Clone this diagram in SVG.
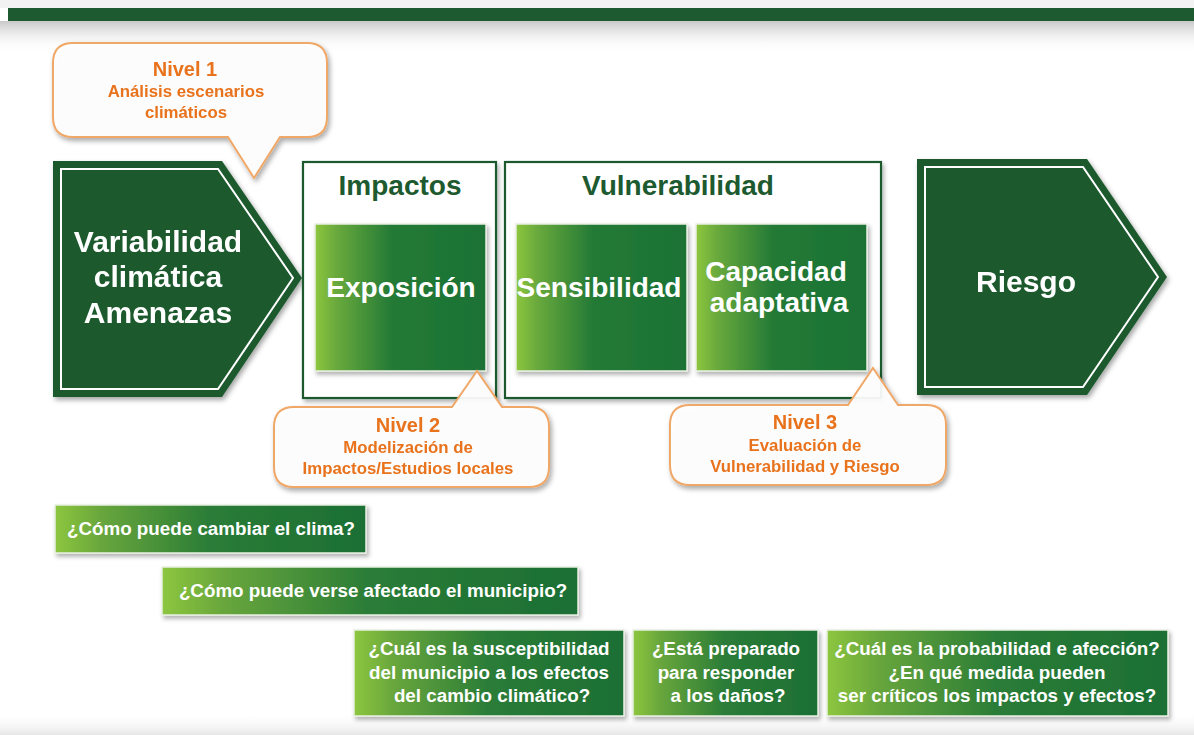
<svg xmlns="http://www.w3.org/2000/svg" width="1194" height="735" viewBox="0 0 1194 735">
<defs>
  <linearGradient id="gBox" x1="0" y1="0" x2="1" y2="0">
    <stop offset="0" stop-color="#8dc63f"/>
    <stop offset="0.12" stop-color="#6aaa3c"/>
    <stop offset="0.45" stop-color="#237a36"/>
    <stop offset="1" stop-color="#1b7234"/>
  </linearGradient>
  <linearGradient id="gQ" x1="0" y1="0" x2="1" y2="0">
    <stop offset="0" stop-color="#8dc63f"/>
    <stop offset="0.15" stop-color="#68a63c"/>
    <stop offset="0.5" stop-color="#2a7c37"/>
    <stop offset="1" stop-color="#1c6f34"/>
  </linearGradient>
  <linearGradient id="gShadeTop" x1="0" y1="0" x2="0" y2="1">
    <stop offset="0" stop-color="#c8c8c8"/>
    <stop offset="1" stop-color="#ffffff" stop-opacity="0"/>
  </linearGradient>
  <linearGradient id="gShadeBot" x1="0" y1="0" x2="0" y2="1">
    <stop offset="0" stop-color="#ffffff" stop-opacity="0"/>
    <stop offset="1" stop-color="#e6e6e6"/>
  </linearGradient>
  <filter id="sh" x="-10%" y="-10%" width="125%" height="130%">
    <feDropShadow dx="2" dy="3" stdDeviation="2.5" flood-color="#000" flood-opacity="0.35"/>
  </filter>
  <filter id="shs" x="-10%" y="-10%" width="125%" height="140%">
    <feDropShadow dx="2" dy="3" stdDeviation="2" flood-color="#000" flood-opacity="0.3"/>
  </filter>
</defs>
<style>
  text { font-family: "Liberation Sans", Arial, sans-serif; font-weight: bold; text-anchor: middle; }
  .w { fill: #ffffff; }
  .big { font-size: 30px; }
  .mid { font-size: 28px; }
  .title { font-size: 28px; fill: #1d5a2f; }
  .or1 { font-size: 20px; fill: #e8731c; }
  .or2 { font-size: 16.8px; fill: #e8731c; }
  .q { font-size: 18.8px; fill: #ffffff; }
  .arrowOuter { fill: #1d5a2f; }
  .arrowInner { fill: none; stroke: #ffffff; stroke-width: 2; }
  .frame { fill: #ffffff; stroke: #1d5a2f; stroke-width: 2.2; }
  .gbox { fill: url(#gBox); stroke: #e8f0e2; stroke-width: 1.5; }
  .qbox { fill: url(#gQ); stroke: #e8f0e2; stroke-width: 1.5; }
  .callout { fill: #ffffff; fill-opacity: 0.92; stroke: #f0a868; stroke-width: 2; }
</style>

<rect x="0" y="0" width="1194" height="735" fill="#ffffff"/>
<rect x="0" y="0" width="1194" height="8" fill="#f2f2f2"/>
<rect x="0" y="21" width="1194" height="32" fill="url(#gShadeTop)"/>
<rect x="0" y="712" width="1194" height="23" fill="url(#gShadeBot)"/>
<rect x="8" y="8" width="1186" height="13" fill="#1d5a2f"/>

<g id="connectors"></g>

<g id="node-variabilidad" filter="url(#sh)">
  <polygon class="arrowOuter" points="53,161 222,161 302,278 222,397 53,397"/>
  <polygon class="arrowInner" points="61,169 218,169 293,278 218,389 61,389"/>
  <text class="w big" x="158" y="252">Variabilidad</text>
  <text class="w big" x="158" y="287">climática</text>
  <text class="w big" x="158" y="323">Amenazas</text>
</g>

<g id="node-impactos">
  <rect class="frame" x="303" y="162" width="193" height="236" filter="url(#shs)"/>
  <text class="title" x="400" y="195">Impactos</text>
</g>

<g id="node-exposicion">
  <rect class="gbox" x="315" y="224" width="171" height="147" filter="url(#shs)"/>
  <text class="w mid" x="401" y="297">Exposición</text>
</g>

<g id="node-vulnerabilidad">
  <rect class="frame" x="505" y="162" width="376" height="236" filter="url(#shs)"/>
  <text class="title" x="678" y="195">Vulnerabilidad</text>
</g>

<g id="node-sensibilidad">
  <rect class="gbox" x="516" y="224" width="171" height="147" filter="url(#shs)"/>
  <text class="w mid" x="599" y="297">Sensibilidad</text>
</g>

<g id="node-capacidad">
  <rect class="gbox" x="696" y="224" width="171" height="147" filter="url(#shs)"/>
  <text class="w mid" x="776" y="281">Capacidad</text>
  <text class="w mid" x="779" y="312">adaptativa</text>
</g>

<g id="node-riesgo" filter="url(#sh)">
  <polygon class="arrowOuter" points="917,159 1087,159 1167,277 1087,395 917,395"/>
  <polygon class="arrowInner" points="925,167 1083,167 1158,277 1083,387 925,387"/>
  <text class="w big" x="1026" y="292">Riesgo</text>
</g>

<g id="callout-nivel1" filter="url(#sh)">
  <path class="callout" d="M 73,43 H 307 Q 327,43 327,63 V 117 Q 327,137 307,137 H 280 L 254,178 L 228,137 H 73 Q 53,137 53,117 V 63 Q 53,43 73,43 Z"/>
  <text class="or1" x="185" y="76">Nivel 1</text>
  <text class="or2" x="186" y="97">Análisis escenarios</text>
  <text class="or2" x="186" y="118">climáticos</text>
</g>

<g id="callout-nivel2" filter="url(#sh)">
  <path class="callout" d="M 294,407 H 452 L 477,371 L 502,407 H 529 Q 549,407 549,427 V 467 Q 549,487 529,487 H 294 Q 274,487 274,467 V 427 Q 274,407 294,407 Z"/>
  <text class="or1" x="408" y="432">Nivel 2</text>
  <text class="or2" x="408" y="453">Modelización de</text>
  <text class="or2" x="408" y="474">Impactos/Estudios locales</text>
</g>

<g id="callout-nivel3" filter="url(#sh)">
  <path class="callout" d="M 690,405 H 848 L 873,368 L 898,405 H 926 Q 946,405 946,425 V 465 Q 946,485 926,485 H 690 Q 670,485 670,465 V 425 Q 670,405 690,405 Z"/>
  <text class="or1" x="805" y="429">Nivel 3</text>
  <text class="or2" x="805" y="451">Evaluación de</text>
  <text class="or2" x="805" y="472">Vulnerabilidad y Riesgo</text>
</g>

<g id="q1">
  <rect class="qbox" x="55" y="505" width="311" height="48" filter="url(#shs)"/>
  <text class="q" x="211" y="535">¿Cómo puede cambiar el clima?</text>
</g>

<g id="q2">
  <rect class="qbox" x="162" y="567" width="416" height="48" filter="url(#shs)"/>
  <text class="q" x="373" y="597">¿Cómo puede verse afectado el municipio?</text>
</g>

<g id="q3">
  <rect class="qbox" x="354" y="630" width="270" height="86" filter="url(#shs)"/>
  <text class="q" x="489" y="655">¿Cuál es la susceptibilidad</text>
  <text class="q" x="489" y="679">del municipio a los efectos</text>
  <text class="q" x="492" y="702">del cambio climático?</text>
</g>

<g id="q4">
  <rect class="qbox" x="633" y="630" width="185" height="86" filter="url(#shs)"/>
  <text class="q" x="726" y="655">¿Está preparado</text>
  <text class="q" x="726" y="679">para responder</text>
  <text class="q" x="728" y="702">a los daños?</text>
</g>

<g id="q5">
  <rect class="qbox" x="827" y="630" width="341" height="86" filter="url(#shs)"/>
  <text class="q" x="997" y="655">¿Cuál es la probabilidad e afección?</text>
  <text class="q" x="997" y="679">¿En qué medida pueden</text>
  <text class="q" x="997" y="702">ser críticos los impactos y efectos?</text>
</g>
</svg>
